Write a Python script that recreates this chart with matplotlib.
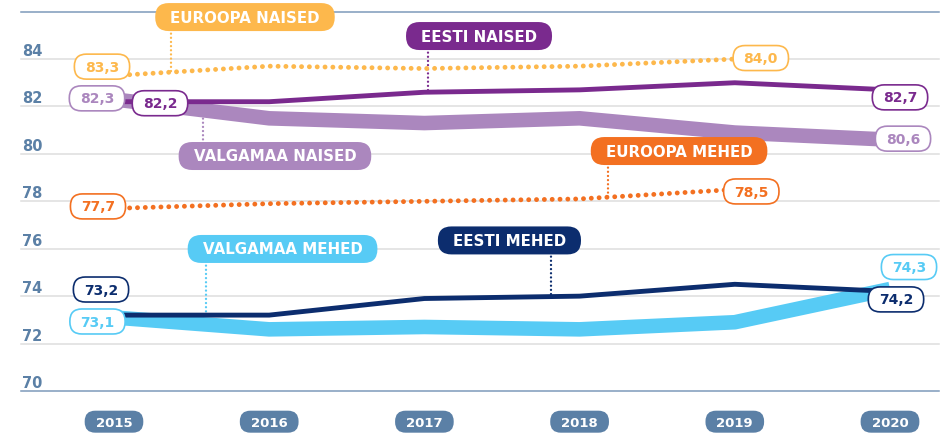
import numpy as np
import matplotlib
matplotlib.use("Agg")
import matplotlib.pyplot as plt
from matplotlib.patches import FancyBboxPatch
from matplotlib.transforms import IdentityTransform

# Data (life expectancy, years)
years = [2015, 2016, 2017, 2018, 2019, 2020]
europa_naised = [83.3, 83.7, 83.6, 83.7, 84.0]
eesti_naised = [82.2, 82.2, 82.6, 82.7, 83.0, 82.7]
valgamaa_naised = [82.3, 81.5, 81.3, 81.5, 80.9, 80.6]
europa_mehed = [77.7, 77.9, 78.0, 78.1, 78.5]
eesti_mehed = [73.2, 73.2, 73.9, 74.0, 74.5, 74.2]
valgamaa_mehed = [73.1, 72.6, 72.7, 72.6, 72.9, 74.3]
y_ticks = [70, 72, 74, 76, 78, 80, 82, 84]

# Colours
c_eur_n = "#FDB84C"
c_est_n = "#7A2A8E"
c_val_n = "#AB87BE"
c_eur_m = "#F37021"
c_est_m = "#0C2D6E"
c_val_m = "#57CBF5"
c_axis = "#5B80A6"

plt.rcParams["font.family"] = ["DejaVu Sans"]

fig = plt.figure(figsize=(9.51, 4.34), dpi=100)
ax = fig.add_axes([0, 0, 1, 1])
ax.set_xlim(2014.2655, 2020.3931)
ax.set_ylim(68.186, 86.49)
ax.axis("off")
renderer = fig.canvas.get_renderer()

x_lo, x_hi = 2014.40, 2020.316

# grid and frame lines
for v in y_ticks[1:]:
    ax.plot([x_lo, x_hi], [v, v], color="#DEDEDE", lw=1.1, zorder=1)
for v in [70, 86]:
    ax.plot([x_lo, x_hi], [v, v], color="#7D9ABA", lw=1.1, zorder=1)
for v in y_ticks:
    ax.annotate(str(v), (x_lo, v), xytext=(1, 0), textcoords="offset pixels",
                ha="left", va="bottom", fontsize=10.5, fontweight="bold",
                color=c_axis, zorder=2)

# series
dotted = dict(lw=3.5, linestyle=(0, (0.01, 1.6)), dash_capstyle="round", zorder=3)
ax.plot(years[:5], europa_naised, color=c_eur_n, **dotted)
ax.plot(years[:5], europa_mehed, color=c_eur_m, **dotted)
ax.plot(years, valgamaa_naised, color=c_val_n, lw=10.5, solid_capstyle="butt", zorder=3)
ax.plot(years, valgamaa_mehed, color=c_val_m, lw=10.5, solid_capstyle="butt", zorder=3)
ax.plot(years, eesti_naised, color=c_est_n, lw=3.5, solid_capstyle="butt", zorder=4)
ax.plot(years, eesti_mehed, color=c_est_m, lw=3.5, solid_capstyle="butt", zorder=4)


def pill(x, y, label, fs, h, padx, tc, fc, ec=None, lw=0, dx=0, dy=0, z=6):
    cx, cy = ax.transData.transform((x, y))
    cx += dx
    cy += dy
    cap = 0.73 * fs * fig.dpi / 72
    t = ax.text(cx, cy - cap / 2, label, transform=IdentityTransform(),
                ha="center", va="baseline", fontsize=fs, fontweight="bold",
                color=tc, zorder=z + 1)
    w = t.get_window_extent(renderer).width + 2 * padx
    box = FancyBboxPatch((cx - w / 2, cy - h / 2), w, h,
                         boxstyle=f"round,pad=0,rounding_size={h / 2 - 0.5}",
                         fc=fc, ec=ec if ec else fc, lw=lw,
                         transform=IdentityTransform(), zorder=z)
    ax.add_patch(box)


def fmt(v):
    return f"{v:.1f}".replace(".", ",")


# value labels: (x, value, colour, dx, dy) offsets in pixels
value_labels = [
    (2015, europa_naised[0], c_eur_n, -12, 9),
    (2019, europa_naised[-1], c_eur_n, 26, 1),
    (2015, valgamaa_naised[0], c_val_n, -17, 1),
    (2015, eesti_naised[0], c_est_n, 46, -1.5),
    (2020, eesti_naised[-1], c_est_n, 10, -7.5),
    (2020, valgamaa_naised[-1], c_val_n, 13, 1),
    (2015, europa_mehed[0], c_eur_m, -16, 2),
    (2019, europa_mehed[-1], c_eur_m, 16.5, -2),
    (2015, eesti_mehed[0], c_est_m, -13, 25.6),
    (2015, valgamaa_mehed[0], c_val_m, -16.5, -4),
    (2020, valgamaa_mehed[-1], c_val_m, 19, 22),
    (2020, eesti_mehed[-1], c_est_m, 6, -8),
]
for x, v, c, dx, dy in value_labels:
    pill(x, v, fmt(v), 10, 25, 10.5, c, "white", ec=c, lw=1.2, dx=dx, dy=dy)

# series name tags with dotted leaders
tags = [
    ("EUROOPA NAISED", 2015.844, 85.77, 2015.367, years[:5], europa_naised, c_eur_n),
    ("EESTI NAISED", 2017.352, 84.97, 2017.023, years, eesti_naised, c_est_n),
    ("VALGAMAA NAISED", 2016.037, 79.91, 2015.573, years, valgamaa_naised, c_val_n),
    ("EUROOPA MEHED", 2018.641, 80.12, 2018.183, years[:5], europa_mehed, c_eur_m),
    ("VALGAMAA MEHED", 2016.086, 75.99, 2015.593, years, valgamaa_mehed, c_val_m),
    ("EESTI MEHED", 2017.548, 76.35, 2017.816, years, eesti_mehed, c_est_m),
]
for name, tx, ty, lx, xs, ys, c in tags:
    ly = np.interp(lx, xs, ys)
    ax.plot([lx, lx], [ty, ly], color=c, lw=1.7, linestyle=(0, (0.01, 1.75)),
            dash_capstyle="round", zorder=2)
    pill(tx, ty, name, 10.8, 28, 15, "white", c)

# year pills
for yr in years:
    pill(yr, 70, str(yr), 9.5, 22, 11, "white", c_axis, dy=-30.7)

fig.savefig("out.png", dpi=100)
